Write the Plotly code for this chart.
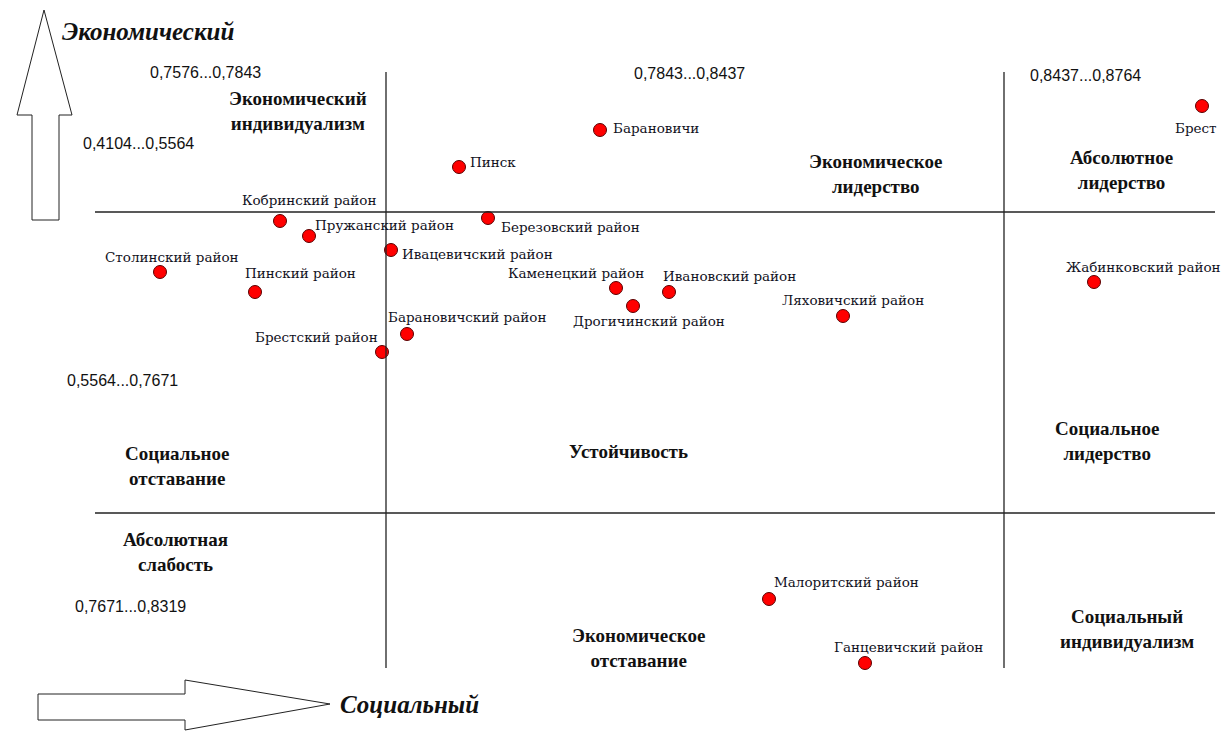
import plotly.graph_objects as go

# Schematic diagram coordinates (social position → x, economic position → y, y grows downward)
names = ["Брест", "Барановичи", "Пинск", "Кобринский район", "Пружанский район",
         "Березовский район", "Ивацевичский район", "Столинский район", "Пинский район",
         "Каменецкий район", "Ивановский район", "Дрогичинский район", "Ляховичский район",
         "Барановичский район", "Брестский район", "Жабинковский район",
         "Малоритский район", "Ганцевичский район"]
social = [1202, 600, 459, 280, 309, 488, 391, 160, 255, 616, 669, 633, 843, 407, 382, 1094, 769, 865]
economic = [106, 130, 167, 221, 236, 218, 250, 272, 292, 288, 292, 306, 316, 334, 352, 282, 599, 663]

# label offsets (pixels) – style only
lab_dx = [-6, 11, 9, 29, 4, 11, 9, 12, 45, 30, -8, 16, 10, -21, -2, 49, 3, 43]
lab_dy = [-22, 2, 5, 21, 11, -9, -4, 15, 19, 15, 16, -15, 16, 17, 15, 15, 17, 16]
lab_anchor = ["center", "left", "left", "center", "left", "left", "left", "center", "center",
              "right", "left", "center", "center", "left", "right", "center", "left", "center"]

# quadrant boundaries (diagram units)
x_splits = [386, 1004]
y_splits = [212, 513]

range_labels = ["0,7576...0,7843", "0,4104...0,5564", "0,7843...0,8437",
                "0,8437...0,8764", "0,5564...0,7671", "0,7671...0,8319"]
range_pos = [(205, 72), (138, 143), (689, 73), (1085, 75), (122, 380), (130, 606)]

zone_labels = ["Экономический<br>индивидуализм", "Экономическое<br>лидерство",
               "Абсолютное<br>лидерство", "Социальное<br>отставание", "Устойчивость",
               "Социальное<br>лидерство", "Абсолютная<br>слабость",
               "Экономическое<br>отставание", "Социальный<br>индивидуализм"]
zone_pos = [(298, 111), (876, 174), (1121, 170), (177, 466), (628, 451),
            (1107, 441), (175, 552), (639, 648), (1127, 629)]

fig = go.Figure()
fig.add_trace(go.Scatter(
    x=social, y=economic, mode="markers",
    marker=dict(size=13, color="#ff0000", line=dict(color="#5a0000", width=1)),
    hovertext=names, hoverinfo="text", showlegend=False))

ann = []
for n, x, y, dx, dy, a in zip(names, social, economic, lab_dx, lab_dy, lab_anchor):
    ann.append(dict(x=x, y=y, text=n, showarrow=False, xanchor=a, yanchor="middle",
                    xshift=dx, yshift=dy,
                    font=dict(family="DejaVu Serif", size=13.5, color="#111122")))
for t, (x, y) in zip(range_labels, range_pos):
    ann.append(dict(x=x, y=y, text=t, showarrow=False, xanchor="center", yanchor="middle",
                    font=dict(family="Liberation Sans", size=16, color="#111111")))
for t, (x, y) in zip(zone_labels, zone_pos):
    ann.append(dict(x=x, y=y, text="<b>" + t + "</b>", showarrow=False, xanchor="center",
                    yanchor="middle",
                    font=dict(family="Liberation Serif", size=19, color="#111111")))
ann.append(dict(x=60, y=31, text="<b><i>Экономический</i></b>", showarrow=False,
                xanchor="left", yanchor="middle",
                font=dict(family="Liberation Serif", size=25, color="#111111")))
ann.append(dict(x=338, y=704, text="<b><i>Социальный</i></b>", showarrow=False,
                xanchor="left", yanchor="middle",
                font=dict(family="Liberation Serif", size=25, color="#111111")))

shapes = []
for xs in x_splits:
    shapes.append(dict(type="line", x0=xs, x1=xs, y0=72, y1=668,
                       line=dict(color="#222222", width=1.3)))
for ys in y_splits:
    shapes.append(dict(type="line", x0=95, x1=1215, y0=ys, y1=ys,
                       line=dict(color="#222222", width=1.3)))
# up arrow
shapes.append(dict(type="path",
                   path="M 32 220 L 59 220 L 59 115 L 72 115 L 44 10 L 17 115 L 32 115 Z",
                   line=dict(color="#222222", width=1), fillcolor="white"))
# right arrow
shapes.append(dict(type="path",
                   path="M 38 694 L 185 694 L 185 680 L 330 704 L 185 730 L 185 720 L 38 720 Z",
                   line=dict(color="#222222", width=1), fillcolor="white"))

fig.update_layout(
    width=1225, height=731, margin=dict(l=0, r=0, t=0, b=0),
    paper_bgcolor="white", plot_bgcolor="white",
    xaxis=dict(range=[0, 1225], visible=False, fixedrange=True),
    yaxis=dict(range=[731, 0], visible=False, fixedrange=True),
    annotations=ann, shapes=shapes)

fig.write_html("out.html", config={"displayModeBar": False},
               post_script="document.body.style.margin='0';document.body.style.overflow='hidden';")
